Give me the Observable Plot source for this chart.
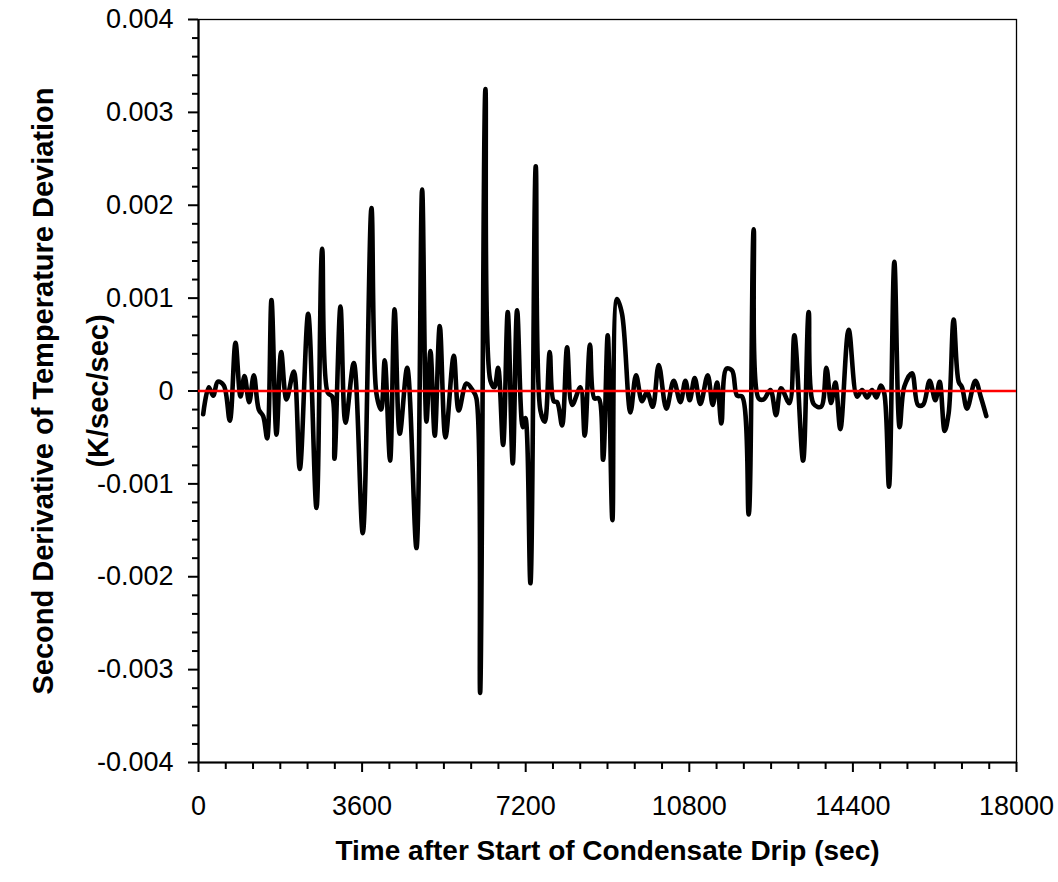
<!DOCTYPE html>
<html>
<head>
<meta charset="utf-8">
<script src="https://cdn.jsdelivr.net/npm/d3@7"></script>
<script src="https://cdn.jsdelivr.net/npm/@observablehq/plot@0.6"></script>
<style>
  html, body { margin: 0; padding: 0; background: #fff; }
</style>
</head>
<body>
<div id="chart"></div>
<script>
const times = [103,227,323,425,557,689,814,924,1012,1115,1217,1327,1423,1511,1606,1716,1819,1936,2097,2229,2413,2596,2721,2845,2941,2992,3124,3234,3417,3615,3806,3916,4019,4098,4216,4315,4429,4592,4796,4921,5016,5104,5199,5309,5434,5617,5727,5896,6043,6116,6197,6314,6424,6512,6593,6703,6805,6915,7011,7135,7194,7304,7421,7524,7619,7729,7817,7891,8001,8111,8221,8404,8499,8615,8712,8807,8903,9005,9108,9210,9320,9504,9628,9760,9870,9995,10127,10296,10457,10604,10714,10809,10919,11044,11205,11315,11411,11506,11616,11741,11851,11961,12107,12217,12327,12437,12584,12709,12819,13002,13112,13304,13427,13537,13699,13816,13919,14014,14124,14307,14491,14601,14711,14821,14916,15018,15092,15194,15312,15429,15532,15700,15832,15942,16089,16214,16309,16419,16507,16617,16727,16801,16911,17094,17218,17336];
const secondDerivative = [-0.00025,0.00004,-0.00005,0.0001,0.00006,-0.00032,0.00052,-0.00006,0.00016,-0.00012,0.00017,-0.0002,-0.00027,-0.00051,0.00098,-0.00047,0.00042,-0.00009,0.00021,-0.00084,0.00083,-0.00126,0.00153,-0.00002,-0.00006,-0.00073,0.00091,-0.00034,0.0003,-0.00153,0.00197,-0.00003,-0.0002,0.00033,-0.00075,0.00088,-0.00046,0.00025,-0.00169,0.00217,-0.00033,0.00043,-0.00048,0.0007,-0.0005,0.00038,-0.00021,0.00008,0,-0.00008,-0.00325,0.00325,0.00011,0.00004,0.00025,-0.00058,0.00085,-0.00078,0.00087,-0.00039,-0.00029,-0.00207,0.00242,-0.00021,-0.00033,0.00042,-0.00011,-0.00012,-0.00037,0.00047,-0.00015,0.00004,-0.00048,0.0005,-0.00008,-0.00008,-0.00074,0.0006,-0.00139,0.00099,0.00083,-0.00023,0.00017,-0.00011,-0.00001,-0.00017,0.00028,-0.00019,0.00011,-0.00012,0.00011,-0.0001,0.00014,-0.00014,0.00017,-0.00015,0.00009,-0.00035,0.00024,0.00022,-0.00005,-0.00006,-0.00133,0.00174,-0.00008,-0.00009,0.00001,-0.00026,0.00003,-0.00013,0.0006,-0.00075,0.00085,-0.00014,-0.00017,0.00025,-0.00013,0.00009,-0.00041,0.00066,-0.00006,0.00001,-0.00007,0.00001,-0.00007,0.00006,-0.00003,-0.00103,0.00139,-0.00039,0.00005,0.00019,-0.00015,-0.00015,0.00011,-0.0001,0.0001,-0.00043,-0.00024,0.00077,0.0001,0.00004,-0.00019,0.00011,-0.00007,-0.00027];

const xTicks = [0, 3600, 7200, 10800, 14400, 18000];
const xMinorTicks = [600,1200,1800,2400,3000,4200,4800,5400,6000,6600,7800,8400,9000,9600,10200,11400,12000,12600,13200,13800,15000,15600,16200,16800,17400];
const yTicks = [-0.004, -0.003, -0.002, -0.001, 0, 0.001, 0.002, 0.003, 0.004];
const yTickLabels = ["-0.004", "-0.003", "-0.002", "-0.001", "0", "0.001", "0.002", "0.003", "0.004"];
const yMinorTicks = [];
for (let i = -20; i <= 20; i++) { if (i % 5 !== 0) yMinorTicks.push(i / 5000); }

const xTitle = "Time after Start of Condensate Drip (sec)";
const yTitle1 = "Second Derivative of Temperature Deviation";
const yTitle2 = "(K/sec/sec)";

const data = times.map((t, i) => ({t, v: secondDerivative[i]}));
const font = "'Liberation Sans', Arial, sans-serif";

const chart = Plot.plot({
  width: 1058,
  height: 882,
  marginLeft: 198,
  marginRight: 42,
  marginTop: 19,
  marginBottom: 120,
  style: {fontFamily: font, fontSize: "27px", background: "#fff", color: "#000", overflow: "visible"},
  x: {domain: [0, 18000]},
  y: {domain: [-0.004, 0.004]},
  marks: [
    Plot.frame({stroke: "#000", strokeWidth: 1.3}),
    Plot.axisX({ticks: xMinorTicks, tickSize: 7, text: null, strokeWidth: 2, label: null}),
    Plot.axisX({ticks: xTicks, tickSize: 10, tickPadding: 23, strokeWidth: 2, tickFormat: d => String(d), fontSize: 27, label: null}),
    Plot.axisY({ticks: yMinorTicks, tickSize: 6, text: null, strokeWidth: 2, label: null}),
    Plot.axisY({ticks: yTicks, tickSize: 10, tickPadding: 15, strokeWidth: 2, tickFormat: d => yTickLabels[yTicks.findIndex(v => Math.abs(v - d) < 1e-9)], fontSize: 27, label: null}),
    Plot.ruleX([0], {stroke: "#000", strokeWidth: 2.2}),
    Plot.ruleY([-0.004], {stroke: "#000", strokeWidth: 2.2}),
    Plot.line(data, {x: "t", y: "v", stroke: "#000", strokeWidth: 4.6, curve: "catmull-rom", strokeLinejoin: "round", strokeLinecap: "round"}),
    Plot.ruleY([0], {stroke: "#ff0000", strokeWidth: 2.5}),
    Plot.text([xTitle], {frameAnchor: "bottom", dy: 89, lineAnchor: "middle", textAnchor: "middle", fontWeight: "bold", fontSize: 28, fill: "#000"}),
    Plot.text([yTitle1], {frameAnchor: "left", dx: -155, rotate: -90, lineAnchor: "middle", textAnchor: "middle", fontWeight: "bold", fontSize: 29, fill: "#000"}),
    Plot.text([yTitle2], {frameAnchor: "left", dx: -100, rotate: -90, lineAnchor: "middle", textAnchor: "middle", fontWeight: "bold", fontSize: 29, fill: "#000"})
  ]
});
document.getElementById("chart").appendChild(chart);
</script>
</body>
</html>
